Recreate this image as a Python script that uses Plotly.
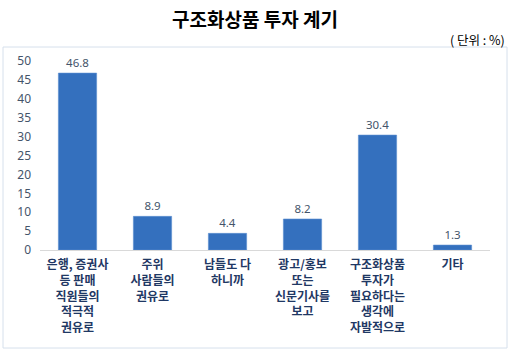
import plotly.graph_objects as go

categories = [
    "은행, 증권사<br>등 판매<br>직원들의<br>적극적<br>권유로",
    "주위<br>사람들의<br>권유로",
    "남들도 다<br>하니까",
    "광고/홍보<br>또는<br>신문기사를<br>보고",
    "구조화상품<br>투자가<br>필요하다는<br>생각에<br>자발적으로",
    "기타",
]
values = [46.8, 8.9, 4.4, 8.2, 30.4, 1.3]
value_labels = ["46.8", "8.9", "4.4", "8.2", "30.4", "1.3"]
y_ticks = [0, 5, 10, 15, 20, 25, 30, 35, 40, 45, 50]

W, H = 510, 353
L, R, T, B = 40, 20, 61, 103
pw, ph = W - L - R, H - T - B

def px_x(x):
    return (x - L) / pw

def px_y(y):
    return (H - B - y) / ph

fig = go.Figure()
fig.add_trace(go.Bar(
    x=categories, y=values,
    text=value_labels, textposition="outside",
    textfont=dict(family="Noto Sans, Arial", size=11.5, color="#44546A"),
    marker=dict(color="#3470BE", line=dict(color="#5A8FD0", width=0.6)),
    cliponaxis=False,
))

fig.update_layout(
    width=W, height=H,
    margin=dict(l=L, r=R, t=T, b=B),
    paper_bgcolor="white", plot_bgcolor="white",
    bargap=0.49,
    showlegend=False,
    font=dict(family="Noto Sans CJK KR"),
    xaxis=dict(
        showline=True, linecolor="#D9D9D9", linewidth=1,
        ticks="", showgrid=False,
        tickfont=dict(family="Noto Sans CJK KR", size=12, color="#1F3864", weight="bold"),
        tickangle=0,
        ticklabelstandoff=4,
    ),
    yaxis=dict(
        range=[0, 50], tickvals=y_ticks, showgrid=False, showline=False,
        zeroline=False, ticks="",
        tickfont=dict(family="Noto Sans, Arial", size=12, color="#44546A"),
        ticklabelstandoff=8,
    ),
    shapes=[dict(
        type="rect", xref="paper", yref="paper",
        x0=px_x(3), x1=px_x(507), y0=px_y(348), y1=px_y(47),
        line=dict(color="#D6E0EC", width=1), fillcolor="rgba(0,0,0,0)", layer="below",
    )],
    annotations=[
        dict(text="<b>구조화상품 투자 계기</b>", xref="paper", yref="paper",
             x=px_x(255), y=px_y(18), xanchor="center", yanchor="middle",
             showarrow=False, font=dict(family="Noto Sans CJK KR", size=19, color="#000000")),
        dict(text="( 단위 : %)", xref="paper", yref="paper",
             x=px_x(507), y=px_y(40), xanchor="right", yanchor="middle",
             showarrow=False, font=dict(family="Noto Sans CJK KR", size=12.5, color="#000000")),
    ],
)

fig.write_html("out.html")
